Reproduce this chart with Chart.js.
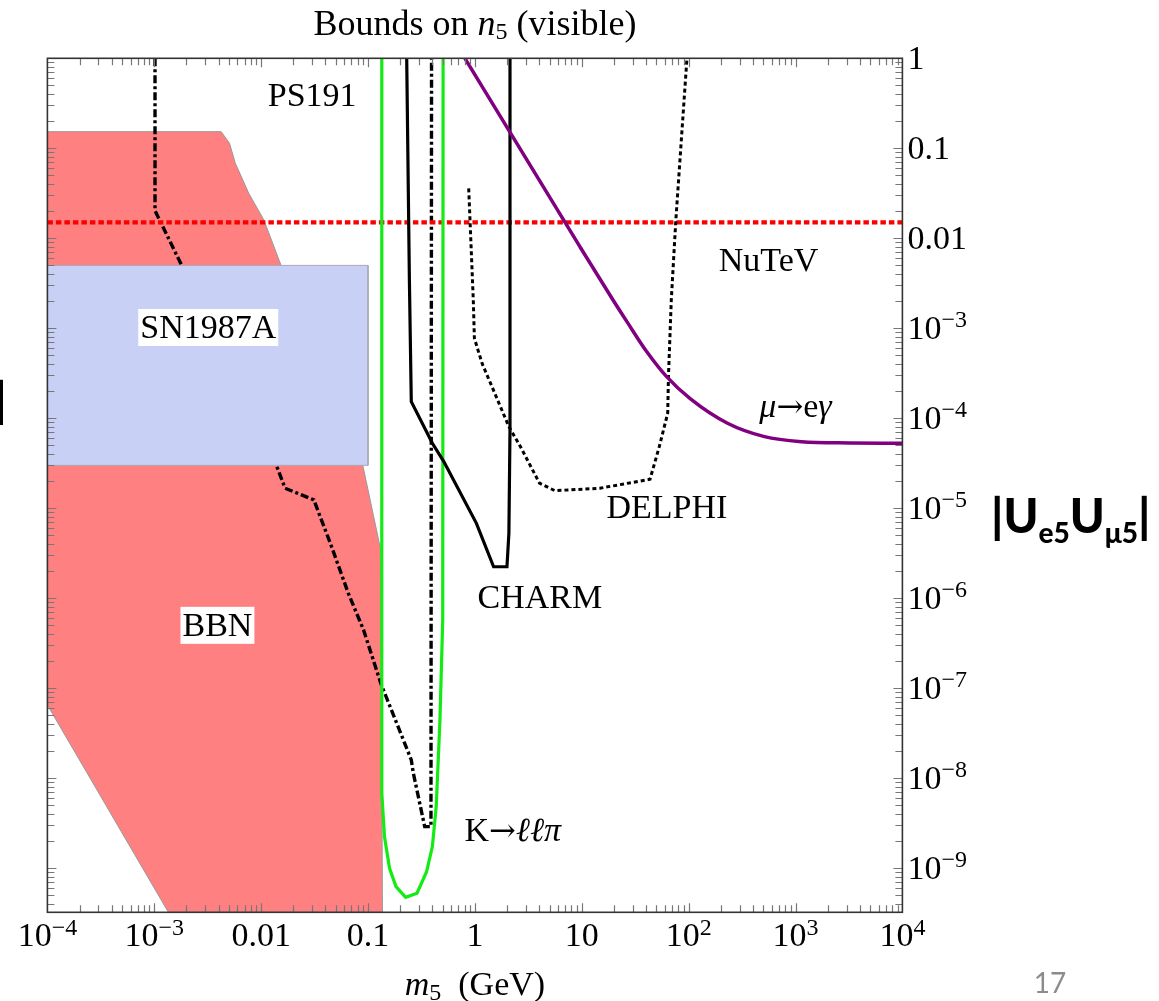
<!DOCTYPE html>
<html>
<head>
<meta charset="utf-8">
<script src="https://cdn.jsdelivr.net/npm/chart.js@4.4.0/dist/chart.umd.min.js"></script>
<style>
  html, body { margin: 0; padding: 0; background: #fff; }
  #wrap { width: 1159px; height: 1001px; }
</style>
</head>
<body>
<div id="wrap"><canvas id="chart" width="1159" height="1001"></canvas></div>
<script>
// axis ranges: heavy neutrino mass m5 (GeV) vs |Ue5 Uμ5|
const massMin = 1e-4, massMax = 1e4;
const mixMin = 3.24e-10, mixMax = 1;

const massTicks = [1e-4, 1e-3, 1e-2, 0.1, 1, 10, 100, 1e3, 1e4];
const massTickLabels = [["10", "−4"], ["10", "−3"], ["0.01"], ["0.1"], ["1"], ["10"], ["10", "2"], ["10", "3"], ["10", "4"]];
const mixTicks = [1, 0.1, 0.01, 1e-3, 1e-4, 1e-5, 1e-6, 1e-7, 1e-8, 1e-9];
const mixTickLabels = [["1"], ["0.1"], ["0.01"], ["10", "−3"], ["10", "−4"], ["10", "−5"], ["10", "−6"], ["10", "−7"], ["10", "−8"], ["10", "−9"]];

// BBN excluded region (closed outline)
const bbnMass = [1e-4, 0.00423, 0.00506, 0.00574, 0.00766, 0.0106, 0.0154, 0.0892, 0.1315, 0.1365, 0.001355, 1e-4, 1e-4];
const bbnMix = [0.153, 0.153, 0.1137, 0.0681, 0.0316, 0.016, 0.00496, 3.03e-5, 3.44e-6, mixMin, mixMin, 6.52e-8, 0.153];

// SN1987A excluded box
const snMass = [1e-4, 0.1, 0.1, 1e-4, 1e-4];
const snMix = [5e-3, 5e-3, 3e-5, 3e-5, 5e-3];

// PS191 (dot-dashed)
const ps191Mass = [1.016e-3, 1.016e-3, 1.81e-3, 0.01384, 0.01675, 0.0311, 0.045, 0.0653, 0.0908, 0.1315, 0.254, 0.265, 0.339, 0.388, 0.393];
const ps191Mix = [1, 0.0203, 4.96e-3, 3.03e-5, 1.67e-5, 1.24e-5, 3.91e-6, 1.14e-6, 4.45e-7, 1.14e-7, 1.6e-8, 1.15e-8, 2.9e-9, 2.9e-9, 1];

// K -> l l pi (green)
const kaonMass = [0.1345, 0.1345, 0.1426, 0.159, 0.1827, 0.2249, 0.2873, 0.3532, 0.4, 0.4345, 0.471, 0.5, 0.504];
const kaonMix = [1, 6.87e-9, 2.24e-9, 1.0e-9, 6.25e-10, 4.76e-10, 5.28e-10, 9.17e-10, 1.74e-9, 4.83e-9, 4.44e-8, 5.74e-7, 1];

// CHARM (solid)
const charmMass = [0.2301, 0.2438, 0.254, 0.4, 0.5117, 1.033, 1.496, 1.995, 2.08, 2.13, 2.13];
const charmMix = [1, 3.44e-3, 1.53e-4, 5.27e-5, 3.3e-5, 6.8e-6, 2.24e-6, 2.24e-6, 5.27e-6, 7.41e-5, 1];

// DELPHI (dotted)
const delphiMass = [0.875, 0.966, 0.989, 1.167, 2.08, 2.67, 4.02, 5.59, 14.76, 43.5, 53.1, 63.7, 64.7, 68.8, 75.9, 96.4];
const delphiMix = [0.0359, 2.06e-3, 7.74e-4, 4.08e-4, 8.07e-5, 4.83e-5, 1.9e-5, 1.57e-5, 1.67e-5, 2.1e-5, 4.83e-5, 1.14e-4, 2.9e-4, 2.06e-3, 0.016, 1];

// mu -> e gamma (purple)
const megMass = [0.806, 9.6, 19.6, 27.0, 40.6, 62.2, 104, 231, 512, 1135, 3222, 1e4];
const megMix = [1, 8.07e-3, 2.06e-3, 1.14e-3, 5.48e-4, 2.9e-4, 1.64e-4, 8.8e-5, 6.25e-5, 5.5e-5, 5.32e-5, 5.27e-5];

// NuTeV (red dotted)
const nutevMass = [1e-4, 1e4];
const nutevMix = [0.015, 0.015];

const pts = (xs, ys) => xs.map((x, i) => ({x, y: ys[i]}));

const serif = (size, style) => `${style || ""} ${size}px "Liberation Serif"`.trim();
const F = serif(34), FI = serif(34, "italic"), FS = serif(24), FT = serif(36), FTI = serif(36, "italic");
const ARROW = '32px "DejaVu Serif"';

// curve labels, anchored in data coordinates
const curveLabels = [
  {at: [0.03, 0.4], runs: [["PS191", F]]},
  {at: [560, 5.9e-3], runs: [["NuTeV", F]]},
  {at: [3.2e-3, 1.06e-3], runs: [["SN1987A", F]], box: true},
  {at: [3.9e-3, 5.2e-7], runs: [["BBN", F]], box: true},
  {at: [4.06, 1.06e-6], runs: [["CHARM", F]]},
  {at: [62.5, 1.06e-5], runs: [["DELPHI", F]]},
  {at: [1000, 1.4e-4], runs: [["μ", FI], ["→", ARROW], ["e", F], ["γ", FI]]},
  {at: [2.26, 2.74e-9], runs: [["K", F], ["→", ARROW], ["ℓℓπ", FI]]},
];

function runsWidth(ctx, runs) {
  let w = 0;
  runs.forEach(r => { ctx.font = r[1]; w += ctx.measureText(r[0]).width; });
  return w;
}

function drawRuns(ctx, runs, x, y, align) {
  const w = runsWidth(ctx, runs);
  let cx = align === "center" ? x - w / 2 : align === "right" ? x - w : x;
  runs.forEach(r => {
    ctx.font = r[1];
    ctx.fillText(r[0], cx, y + (r[2] || 0));
    cx += ctx.measureText(r[0]).width;
  });
  return cx;
}

const framePlugin = {
  id: "frame",
  afterDatasetsDraw(chart) {
    const {ctx, chartArea: a} = chart;
    const xs = chart.scales.x, ys = chart.scales.y;
    ctx.save();

    // tick marks on all four sides, pointing inward
    ctx.strokeStyle = "#777";
    ctx.lineWidth = 1.2;
    ctx.beginPath();
    for (let e = -4; e < 4; e++) {
      for (let k = 1; k < 10; k++) {
        const v = k * Math.pow(10, e);
        if (v <= massMin) continue;
        const px = Math.round(xs.getPixelForValue(v)) + 0.5;
        const len = k === 1 ? 9 : 7;
        ctx.moveTo(px, a.bottom); ctx.lineTo(px, a.bottom - len);
        ctx.moveTo(px, a.top); ctx.lineTo(px, a.top + len);
      }
    }
    for (let e = -10; e < 0; e++) {
      for (let k = 1; k < 10; k++) {
        const v = k * Math.pow(10, e);
        if (v <= mixMin || v >= mixMax) continue;
        const py = Math.round(ys.getPixelForValue(v)) + 0.5;
        const len = k === 1 ? 9 : 7;
        ctx.moveTo(a.left, py); ctx.lineTo(a.left + len, py);
        ctx.moveTo(a.right, py); ctx.lineTo(a.right - len, py);
      }
    }
    ctx.stroke();

    ctx.strokeStyle = "#333";
    ctx.lineWidth = 1.6;
    ctx.strokeRect(a.left, a.top, a.right - a.left, a.bottom - a.top);

    // curve labels
    ctx.fillStyle = "#000";
    ctx.textBaseline = "alphabetic";
    curveLabels.forEach(l => {
      const cx = xs.getPixelForValue(l.at[0]);
      const base = ys.getPixelForValue(l.at[1]) + 12;
      if (l.box) {
        const w = runsWidth(ctx, l.runs);
        ctx.fillStyle = "#fff";
        ctx.fillRect(cx - w / 2 - 2, base - 29, w + 4, 37);
        ctx.fillStyle = "#000";
      }
      drawRuns(ctx, l.runs, cx, base, "center");
    });

    // tick labels
    massTicks.forEach((v, i) => {
      const lab = massTickLabels[i];
      const runs = [[lab[0], F]];
      if (lab[1]) runs.push([lab[1], FS, -11.5]);
      drawRuns(ctx, runs, xs.getPixelForValue(v), 946, "center");
    });
    mixTicks.forEach((v, i) => {
      const lab = mixTickLabels[i];
      const runs = [[lab[0], F]];
      if (lab[1]) runs.push([lab[1], FS, -12]);
      drawRuns(ctx, runs, a.right + 5, ys.getPixelForValue(v) + 11, "left");
    });

    // title and mass axis title
    const mid = (a.left + a.right) / 2;
    drawRuns(ctx, [["Bounds on ", FT], ["n", FTI], ["5", FS, 4], [" (visible)", FT]], mid, 35, "center");
    drawRuns(ctx, [["m", FI], ["5", FS, 5], ["  (GeV)", F]], mid, 995, "center");

    // mixing axis title on the right
    const B = '900 47px "Lato"', BS = '900 28px "Lato"';
    drawRuns(ctx, [["|", B], ["U", B], ["e5", BS, 10], ["U", B], ["μ5", BS, 10], ["|", B]], 991, 533, "left");
    // edge of a neighbouring label, cut by the slide border
    ctx.font = B;
    ctx.textAlign = "center";
    ctx.fillText("|", 0.5, 417);
    ctx.textAlign = "left";

    // slide number
    ctx.fillStyle = "#8c8c8c";
    drawRuns(ctx, [["17", '400 28px "Lato"']], 1050, 993, "center");
    ctx.restore();
  }
};

const line = (label, xs, ys, color, width, dash, order) => ({
  label,
  data: pts(xs, ys),
  showLine: true,
  borderColor: color,
  borderWidth: width,
  borderDash: dash,
  pointRadius: 0,
  fill: false,
  order,
});

new Chart(document.getElementById("chart"), {
  type: "scatter",
  data: {
    datasets: [
      {
        label: "BBN", data: pts(bbnMass, bbnMix), showLine: true,
        borderColor: "#999", borderWidth: 1, pointRadius: 0,
        fill: "shape", backgroundColor: "rgb(255,128,128)", order: 10,
      },
      line("PS191", ps191Mass, ps191Mix, "#000", 3.4, [8, 3, 3, 3], 9),
      {
        label: "SN1987A", data: pts(snMass, snMix), showLine: true,
        borderColor: "#a8a8b8", borderWidth: 1, pointRadius: 0,
        fill: "shape", backgroundColor: "rgb(200,209,245)", order: 8,
      },
      line("NuTeV", nutevMass, nutevMix, "rgb(250,0,0)", 4.3, [5.5, 3], 6),
      line("K→ℓℓπ", kaonMass, kaonMix, "rgb(20,235,20)", 3.2, [], 5),
      line("CHARM", charmMass, charmMix, "#000", 3.2, [], 4),
      line("DELPHI", delphiMass, delphiMix, "#000", 3, [4, 3], 3),
      Object.assign(line("μ→eγ", megMass, megMix, "rgb(128,0,128)", 3.5, [], 2), {cubicInterpolationMode: "monotone"}),
    ],
  },
  options: {
    responsive: false,
    animation: false,
    layout: {padding: {left: 47.4, top: 58.3, right: 256.6, bottom: 88.7}},
    plugins: {legend: {display: false}, tooltip: {enabled: false}},
    scales: {
      x: {type: "logarithmic", min: massMin, max: massMax, display: false},
      y: {type: "logarithmic", min: mixMin, max: mixMax, display: false},
    },
  },
  plugins: [framePlugin],
});
</script>
</body>
</html>
